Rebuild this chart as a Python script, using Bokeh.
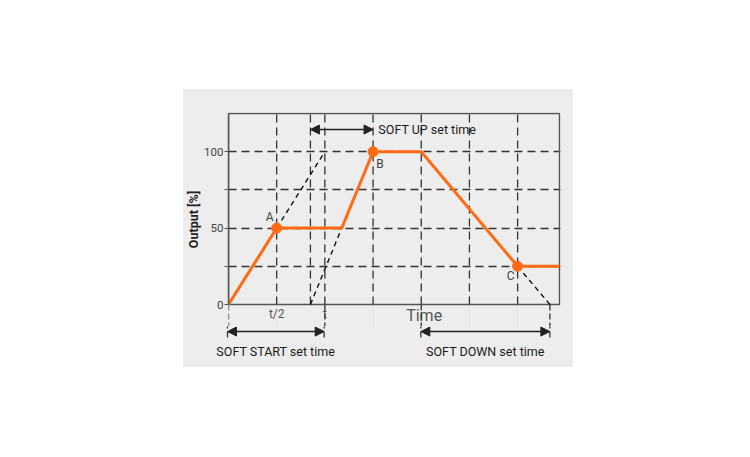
from bokeh.plotting import figure
from bokeh.models import (Arrow, NormalHead, Label, FixedTicker, Range1d, Spacer)
from bokeh.layouts import column, row
from bokeh.core.properties import value
from bokeh.embed import file_html
from bokeh.resources import INLINE

# ---- data ----
curve_x = [0, 1, 2.35, 3, 4, 6, 6.87]
curve_y = [0, 50, 50, 100, 100, 25, 25]
point_names = ["A", "B", "C"]
point_x = [1, 3, 6]
point_y = [50, 100, 25]
start_ext_x = [1, 2]
start_ext_y = [50, 100]
up_ext_x = [1.70, 2.35]
up_ext_y = [0, 50]
down_ext_x = [6, 6.67]
down_ext_y = [25, 0]
x_ticks = [1, 2]
x_tick_labels = ["t/2", "t"]
y_ticks = [0, 25, 50, 75, 100]
y_tick_labels = ["0", "", "50", "", "100"]
grid_x = [1, 2, 3, 4, 5, 6]
grid_y = [25, 50, 75, 100]
soft_up_from = 1.70
soft_up_to = 3
soft_start_from = 0
soft_start_to = 2
soft_down_from = 4
soft_down_to = 6.67
x_max = 6.87
y_max = 125

ORANGE = "#ff6a13"
DARK = "#333333"
FRAME = "#555555"
BG = "#ededed"
FONT = "Roboto"

# layout constants (pixels)
PX_X = 48.33          # pixels per time unit
PX_Y = 1.528          # pixels per % unit
PANEL_W = 390
LEFT = 44             # chart left edge inside the panel
TOP_H = 237           # upper figure: chart + time labels
BOT_H = 41            # lower strip: set-time arrows
pad_y = 1 / PX_Y
split_y = -22 / PX_Y  # data y where the two figures meet

p = figure(width=PANEL_W, height=TOP_H,
           x_range=Range1d(0, x_max + 0.02), y_range=Range1d(split_y, y_max + pad_y),
           x_axis_location=None,
           output_backend="svg", toolbar_location=None,
           min_border_left=LEFT, min_border_right=13, min_border_top=23, min_border_bottom=0,
           background_fill_color=BG, border_fill_color=BG)
p.outline_line_color = None

# horizontal grid
p.ygrid.ticker = FixedTicker(ticks=grid_y)
p.ygrid.grid_line_color = DARK
p.ygrid.grid_line_dash = "8 5"
p.ygrid.grid_line_width = 1.3
p.ygrid.grid_line_alpha = 1

# vertical grid lines
p.segment(x0=grid_x, y0=[0] * len(grid_x), x1=grid_x, y1=[y_max] * len(grid_x),
          line_color=DARK, line_dash="8 5", line_width=1.3)
p.segment(x0=[soft_up_from], y0=[0], x1=[soft_up_from], y1=[y_max],
          line_color=DARK, line_dash="8 5", line_width=1.3)

# frame box
p.quad(left=[0], right=[x_max], bottom=[0], top=[y_max], fill_color=None,
       line_color=FRAME, line_width=1.5)

# y axis
p.yaxis.bounds = (0, y_max)
p.yaxis.ticker = FixedTicker(ticks=y_ticks)
p.yaxis.major_label_overrides = dict(zip(y_ticks, y_tick_labels))
p.yaxis.major_tick_out = 4
p.yaxis.major_tick_in = 0
p.yaxis.minor_tick_line_color = None
p.yaxis.major_tick_line_color = FRAME
p.yaxis.axis_line_color = FRAME
p.yaxis.axis_line_width = 1.5
p.yaxis.axis_label = "Output [%]"
p.yaxis.axis_label_text_font = FONT
p.yaxis.axis_label_text_font_style = "bold"
p.yaxis.axis_label_text_font_size = "12.5px"
p.yaxis.axis_label_text_color = "#222222"
p.yaxis.axis_label_standoff = 0
p.yaxis.major_label_standoff = 1
p.yaxis.major_label_text_font = FONT
p.yaxis.major_label_text_font_size = "11.5px"
p.yaxis.major_label_text_color = "#444444"

# time labels under the chart
p.text(x=x_ticks, y=[-6.5] * len(x_ticks), text=x_tick_labels, text_font=value(FONT),
       text_font_size="12px", text_color="#555555", text_align="center", text_baseline="middle")
p.text(x=[4.06], y=[-7.3], text=["Time"], text_font=value(FONT), text_font_size="16px",
       text_color="#555555", text_align="center", text_baseline="middle")

# dashed construction lines
for xs, ys in ((start_ext_x, start_ext_y), (up_ext_x, up_ext_y), (down_ext_x, down_ext_y)):
    p.line(xs, ys, line_color="#111111", line_dash="5 4", line_width=1.4)

# output curve
p.line(curve_x, curve_y, line_color=ORANGE, line_width=3)
p.scatter(point_x, point_y, size=10, color=ORANGE)
p.text(x=point_x, y=point_y, text=point_names, x_offset=[-7, 7, -7], y_offset=[-11, 12, 10],
       text_font=value(FONT), text_font_size="12px", text_color="#444444",
       text_align="center", text_baseline="middle")

head = lambda: NormalHead(size=9, fill_color="#222222", line_color="#222222")
arrow_y_top = 114.5
p.add_layout(Arrow(x_start=soft_up_from, y_start=arrow_y_top, x_end=soft_up_to, y_end=arrow_y_top,
                   start=head(), end=head(), line_color="#222222", line_width=1.5))
p.add_layout(Label(x=3.11, y=arrow_y_top, text="SOFT UP set time", text_align="left",
                   text_baseline="middle", text_font=FONT, text_font_size="12.5px",
                   text_color="#1a1a1a"))

# ---- lower strip: set-time arrows ----
q = figure(width=PANEL_W, height=BOT_H,
           x_range=Range1d(-LEFT / PX_X, (PANEL_W - LEFT) / PX_X),
           y_range=Range1d(split_y - BOT_H / PX_Y, split_y),
           x_axis_location=None, y_axis_location=None,
           output_backend="svg", toolbar_location=None,
           min_border=0, min_border_left=0, min_border_right=0, min_border_top=0,
           min_border_bottom=0, background_fill_color=BG, border_fill_color=BG)
q.outline_line_color = None
q.grid.visible = False

ext_x = [soft_start_from, soft_start_to, soft_down_from, soft_down_to]
for fig in (p, q):
    fig.segment(x0=ext_x, y0=[0] * 4, x1=ext_x, y1=[-22.5] * 4,
                line_color=DARK, line_dash="6 3", line_width=1.3)

arrow_y_bottom = -17.7
for x0, x1 in ((soft_start_from, soft_start_to), (soft_down_from, soft_down_to)):
    q.add_layout(Arrow(x_start=x0, y_start=arrow_y_bottom, x_end=x1, y_end=arrow_y_bottom,
                       start=head(), end=head(), line_color="#222222", line_width=1.5))

for xc, txt in (((soft_start_from + soft_start_to) / 2, "SOFT START set time"),
                ((soft_down_from + soft_down_to) / 2, "SOFT DOWN set time")):
    q.add_layout(Label(x=xc, y=-30.7, text=txt, text_align="center", text_baseline="middle",
                       text_font=FONT, text_font_size="12.5px", text_color="#1a1a1a"))

panel = column(row(p), row(q), styles={"background-color": BG})
layout = column(Spacer(height=89), row(Spacer(width=183), panel))
open("out.html", "w").write(file_html(layout, INLINE))
